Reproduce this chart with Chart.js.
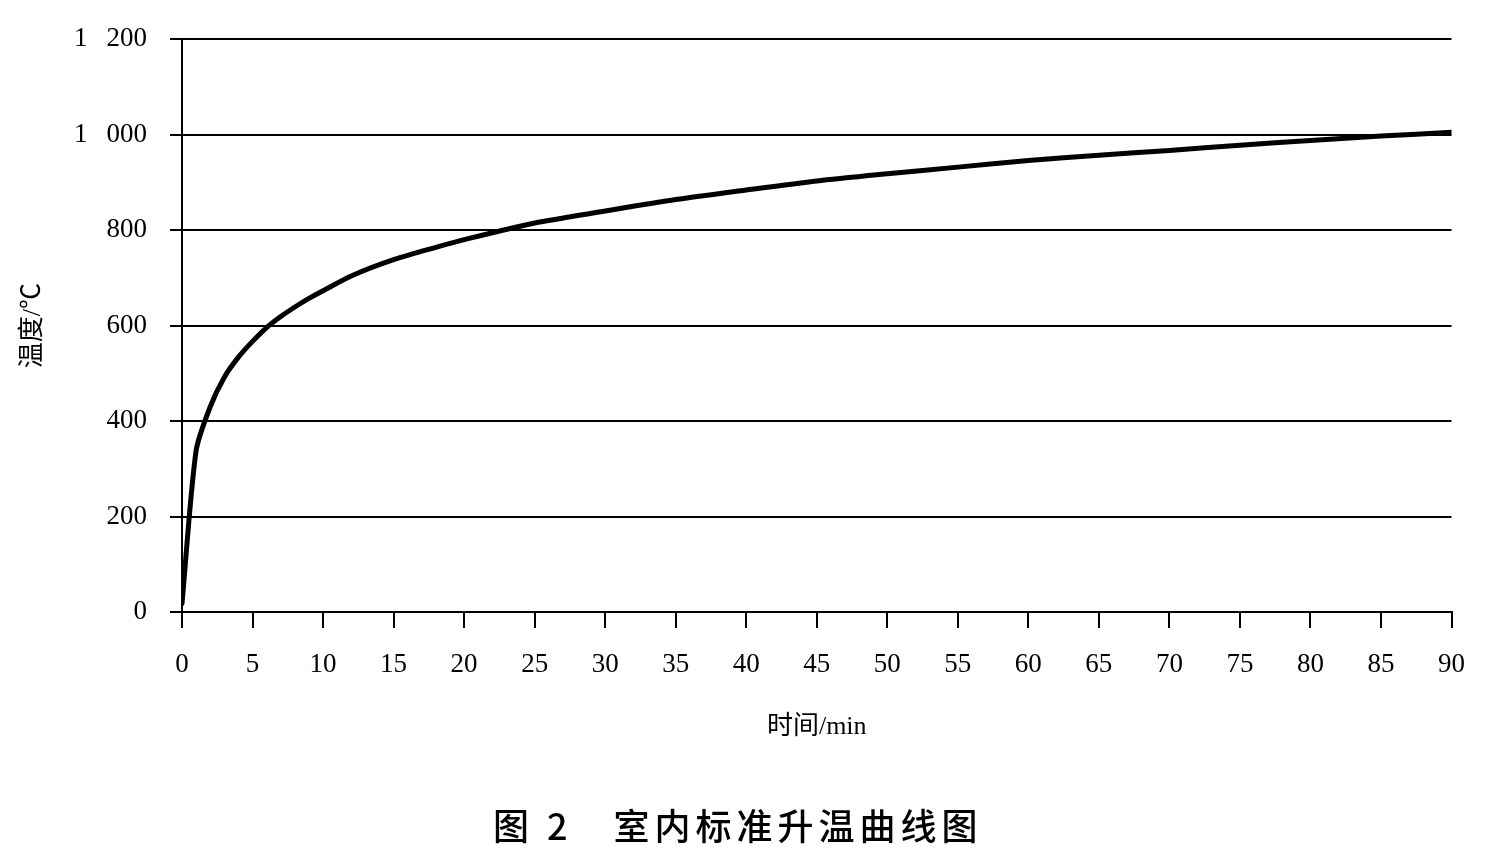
<!DOCTYPE html>
<html>
<head>
<meta charset="utf-8">
<script src="https://cdn.jsdelivr.net/npm/chart.js@4"></script>
<style>
  html, body { margin: 0; padding: 0; background: #fff; }
  #wrap { position: relative; width: 1486px; height: 859px; }
  #caption {
    position: absolute; left: 493px; top: 806px;
    font-family: "Noto Sans CJK SC", sans-serif; font-weight: 500; font-size: 36px; line-height: 36px;
    letter-spacing: 5px; color: #000; white-space: pre;
  }
</style>
</head>
<body>
<div id="wrap">
  <canvas id="fireCurve" width="1486" height="859"></canvas>
  <div id="caption"></div>
</div>
<script>
// 室内标准升温曲线 — 图上读出来的点（分钟, ℃）
const timeMin = [0, 1, 2, 3, 4, 5, 6, 7, 8, 9, 10, 12, 15, 18, 20, 25, 30, 35, 40, 45, 50, 55, 60, 65, 70, 75, 80, 85, 90];
const tempC   = [18, 338, 430, 492, 534, 567, 596, 619, 639, 657, 673, 704, 738, 764, 780, 815, 840, 864, 884, 903, 918, 932, 946, 957, 967, 978, 988, 997, 1005];

const xTitle = "时间/min";
const yTitle = "温度/℃";
const captionText = "图 2　室内标准升温曲线图";

const SERIF = '"Liberation Serif", "Noto Sans CJK SC", serif';

document.getElementById("caption").textContent = captionText;

function yTickLabel(v) {
  // 千位用空格隔开，跟原图一样写成 "1 000"
  if (v >= 1000) return "1\u2002\u2009" + String(v).slice(1);
  return String(v);
}

new Chart(document.getElementById("fireCurve"), {
  type: "line",
  data: {
    datasets: [{
      data: timeMin.map((t, i) => ({ x: t, y: tempC[i] })),
      borderColor: "#000",
      borderWidth: 5,
      borderCapStyle: "round",
      borderJoinStyle: "round",
      pointRadius: 0,
      tension: 0.25,
    }],
  },
  options: {
    responsive: false,
    animation: false,
    parsing: false,
    layout: { padding: { left: 0, right: 34, top: 20, bottom: 0 } },
    plugins: { legend: { display: false }, tooltip: { enabled: false } },
    scales: {
      x: {
        type: "linear",
        min: 0,
        max: 90,
        afterFit: (axis) => { axis.height = 247; },
        ticks: { stepSize: 5, maxRotation: 0, autoSkip: false, padding: 21, color: "#000", font: { family: SERIF, size: 27 } },
        grid: { drawOnChartArea: false, drawTicks: true, tickLength: 16, color: "#000", lineWidth: 2 },
        border: { color: "#000", width: 2 },
        title: { display: true, text: xTitle, color: "#000", font: { family: SERIF, size: 26 }, padding: { top: 0, bottom: 116 } },
      },
      y: {
        min: 0,
        max: 1200,
        afterFit: (axis) => { axis.width = 182; },
        ticks: { stepSize: 200, padding: 23, color: "#000", font: { family: SERIF, size: 27 }, callback: yTickLabel },
        grid: { color: "#000", lineWidth: 2, tickLength: 12 },
        border: { color: "#000", width: 2 },
        title: { display: true, text: yTitle, color: "#000", font: { family: SERIF, size: 26 }, padding: { top: 18, bottom: 0 } },
      },
    },
  },
});
</script>
</body>
</html>
